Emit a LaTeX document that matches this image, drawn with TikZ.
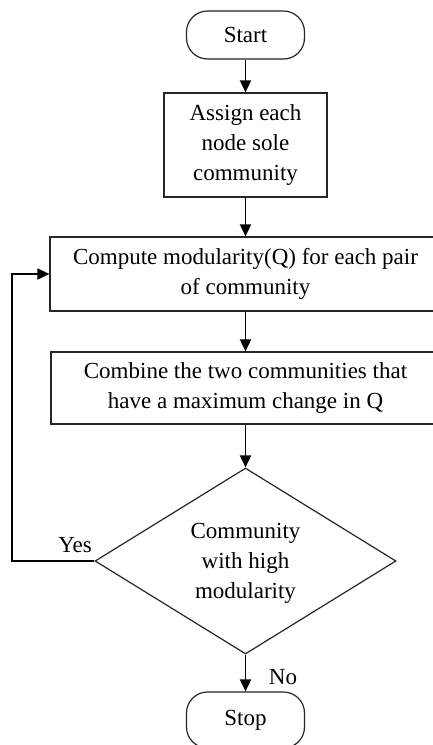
\documentclass[tikz,border=0pt]{standalone}
\usepackage{fontspec}
\setmainfont{Liberation Serif}
\usetikzlibrary{shapes.geometric,arrows.meta}
\begin{document}
\begin{tikzpicture}[x=1pt,y=-1pt,
  every node/.style={font=\fontsize{23}{30}\selectfont},
  box/.style={draw=black!85,line width=1.2pt,rectangle,inner sep=0pt,align=center},
  term/.style={box,rounded corners=21pt},
  dia/.style={draw=black!85,line width=1.2pt,diamond,inner sep=0pt},
  flow/.style={line width=1.8pt,-{Triangle[length=12pt,width=11pt]}},
  lbl/.style={inner sep=0pt}]
\useasboundingbox (0,0) rectangle (433,745);
\clip (0,0) rectangle (433,745);
\fill[white] (0,0) rectangle (433,745);
\node[term,minimum width=118pt,minimum height=48pt] (start) at (245.5,35) {Start};
\node[box,minimum width=163pt,minimum height=104pt] (assign) at (245.5,145) {Assign each\\node sole\\community};
\node[box,minimum width=391pt,minimum height=74pt] (compute) at (245.5,274) {Compute modularity(Q) for each pair\\of community};
\node[box,minimum width=389pt,minimum height=72pt] (combine) at (245.5,388) {Combine the two communities that\\have a maximum change in Q};
\node[dia,minimum width=301pt,minimum height=186pt] (dec) at (245.5,561) {};
\node[align=center,inner sep=0pt] (dectext) at (245.5,563) {Community\\with high\\modularity};
\node[term,minimum width=118pt,minimum height=56pt] (stop) at (245.5,720) {Stop};
\coordinate (loop) at (12,561);
\draw[flow] (start) -- (assign);
\draw[flow] (assign) -- (compute);
\draw[flow] (compute) -- (combine);
\draw[flow] (combine) -- (dec.north);
\draw[flow] (dec.south) -- (stop);
\draw[flow] (dec.west) -- (loop) |- (compute.west);
\node[lbl] (yes) at (75,545) {Yes};
\node[lbl] (no) at (283,677) {No};
\end{tikzpicture}
\end{document}
